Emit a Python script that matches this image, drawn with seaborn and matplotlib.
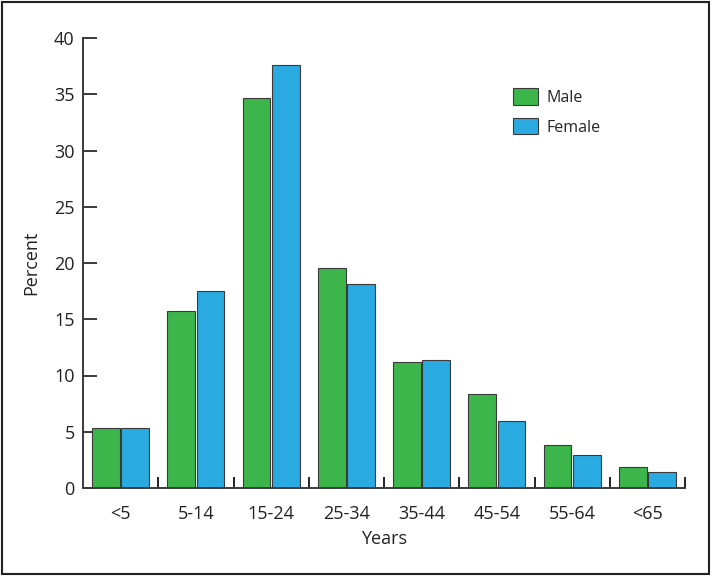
import matplotlib
matplotlib.use("Agg")
import matplotlib.pyplot as plt
import seaborn as sns
import pandas as pd
import numpy as np
from matplotlib.ticker import FixedLocator
from matplotlib.patches import Rectangle

categories = ["<5", "5-14", "15-24", "25-34", "35-44", "45-54", "55-64", "<65"]
male = [5.3, 15.7, 34.7, 19.6, 11.2, 8.4, 3.8, 1.9]
female = [5.3, 17.5, 37.6, 18.1, 11.35, 6.0, 2.9, 1.4]
series = ["Male", "Female"]
colors = ["#3cb54a", "#29abe2"]

df = pd.DataFrame({
    "Years": categories * 2,
    "Percent": male + female,
    "Sex": [series[0]] * len(categories) + [series[1]] * len(categories),
})

sns.set_theme(style="white")
plt.rcParams["font.family"] = ["Open Sans", "DejaVu Sans"]

fig = plt.figure(figsize=(7.11, 5.76), dpi=100)
ax = fig.add_axes([83 / 711, (576 - 488) / 576, (685 - 83) / 711, (488 - 38) / 576])

sns.barplot(data=df, x="Years", y="Percent", hue="Sex", order=categories,
            hue_order=series, palette=colors, width=0.78, gap=0.05,
            edgecolor="#3a3a3a", linewidth=0.8, saturation=1, ax=ax)

ax.set_xlim(-0.5, len(categories) - 0.5)
ax.set_ylim(0, 40)
ax.set_yticks(range(0, 41, 5))
ax.xaxis.set_minor_locator(FixedLocator(np.arange(0.5, len(categories), 1.0)))

for s in ["top", "right"]:
    ax.spines[s].set_visible(False)
for s in ["left", "bottom"]:
    ax.spines[s].set_color("#3a3a3a")
    ax.spines[s].set_linewidth(1.4)

ax.tick_params(axis="y", which="major", direction="in", length=10, width=1.4,
               color="#3a3a3a", labelsize=13, labelcolor="#222222", pad=6, left=True)
ax.tick_params(axis="x", which="major", length=0, labelsize=13, labelcolor="#222222", pad=12)
ax.tick_params(axis="x", which="minor", direction="in", length=8, width=1.4,
               color="#222222", bottom=True)

ax.set_xlabel("Years", fontsize=13, color="#222222", labelpad=5)
ax.set_ylabel("Percent", fontsize=13, color="#222222", labelpad=10)

ax.legend(frameon=False, loc="upper left", bbox_to_anchor=(0.69, 0.92),
          fontsize=11.5, handlelength=1.6, handleheight=1.2, labelspacing=0.75,
          handletextpad=0.5, title=None)

fig.patches.append(Rectangle((0.003, 0.003), 0.994, 0.994, transform=fig.transFigure,
                             fill=False, edgecolor="#222222", linewidth=1.5))

fig.savefig("out.png", dpi=100)
